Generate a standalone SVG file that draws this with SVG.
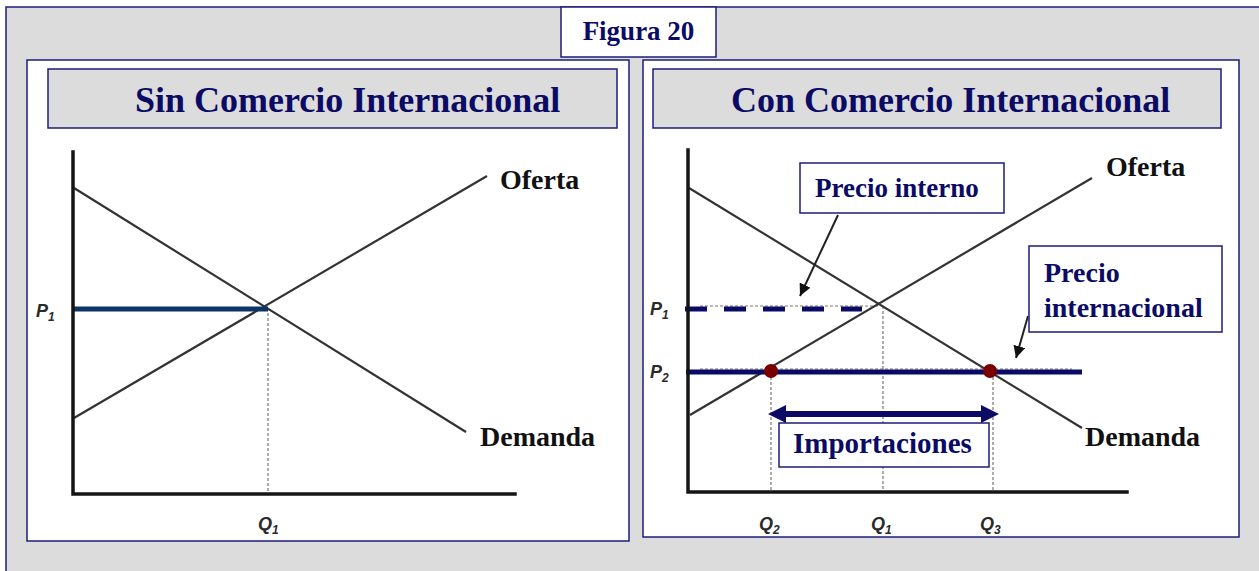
<svg xmlns="http://www.w3.org/2000/svg" width="1259" height="571" viewBox="0 0 1259 571">
<style>
.frame{fill:#ffffff;stroke:#1c1c7a;stroke-width:1.5}
.gbox{fill:#dcdcdc;stroke:#1c1c7a;stroke-width:1.5}
.title{font-family:"Liberation Serif",serif;font-weight:bold;fill:#0b0b66}
.lbl{font-family:"Liberation Serif",serif;font-weight:bold;fill:#111111}
.ax{stroke:#151515;stroke-width:3.5;fill:none;stroke-linecap:square}
.curve{stroke:#333333;stroke-width:2.2;fill:none}
.dot{stroke:#777777;stroke-width:1.2;stroke-dasharray:3 2;fill:none}
.var{font-family:"Liberation Sans",sans-serif;font-weight:bold;font-style:italic;fill:#2a2a2a;font-size:18px}
.sub{font-size:12px}
.ptr{stroke:#222222;stroke-width:2;fill:none}
</style>
<defs>
<marker id="ah" markerUnits="userSpaceOnUse" markerWidth="14" markerHeight="14" refX="12" refY="6" orient="auto">
<path d="M0,0 L12,6 L0,12 Z" fill="#111111"/>
</marker>
</defs>
<rect x="6" y="7" width="1260" height="570" fill="#dcdcdc" stroke="#1c1c7a" stroke-width="1.5"/>

<g id="figura">
<rect class="frame" x="561" y="7" width="155" height="50"/>
<text class="title" x="638.5" y="40" font-size="27" text-anchor="middle">Figura 20</text>
</g>

<g id="panel-sin">
<rect class="frame" x="27" y="60" width="602" height="481"/>
<rect class="gbox" x="48" y="69" width="569" height="59"/>
<text class="title" x="135" y="112" font-size="36">Sin Comercio Internacional</text>
</g>

<g id="panel-con">
<rect class="frame" x="643" y="60" width="596" height="477"/>
<rect class="gbox" x="653" y="69" width="568" height="59"/>
<text class="title" x="731" y="112" font-size="36">Con Comercio Internacional</text>
</g>

<g id="chart-sin">
<line class="dot" x1="268" y1="308" x2="268" y2="494"/>
<line class="curve" x1="74" y1="188" x2="466" y2="432"/>
<line class="curve" x1="74" y1="418" x2="487" y2="176"/>
<line x1="73" y1="309" x2="268" y2="309" stroke="#0d3468" stroke-width="5"/>
<path class="ax" d="M73,152 L73,494 L515,494"/>
<text class="var" x="36" y="317">P<tspan class="sub" dy="4">1</tspan></text>
<text class="var" x="258" y="530">Q<tspan class="sub" dy="4">1</tspan></text>
</g>

<g id="label-oferta-sin"><text class="lbl" x="500" y="189" font-size="28">Oferta</text></g>
<g id="label-demanda-sin"><text class="lbl" x="480" y="446" font-size="28">Demanda</text></g>

<g id="chart-con">
<line class="dot" x1="771" y1="372" x2="771" y2="492"/>
<line class="dot" x1="883" y1="306" x2="883" y2="492"/>
<line class="dot" x1="993" y1="372" x2="993" y2="492"/>
<line class="dot" x1="700" y1="306" x2="878" y2="306"/>
<line class="dot" x1="700" y1="369" x2="1072" y2="369"/>
<line class="curve" x1="689" y1="188" x2="1082" y2="428"/>
<line class="curve" x1="690" y1="415" x2="1092" y2="178"/>
<line x1="685" y1="309" x2="862" y2="309" stroke="#0b0b66" stroke-width="5" stroke-dasharray="22 17"/>
<line x1="686" y1="372" x2="1082" y2="372" stroke="#0b0b66" stroke-width="5"/>
<circle cx="771" cy="371" r="7" fill="#7a0000"/>
<circle cx="990" cy="371" r="7" fill="#7a0000"/>
<path class="ax" d="M688,150 L688,492 L1127,492"/>
<text class="var" x="650" y="315">P<tspan class="sub" dy="4">1</tspan></text>
<text class="var" x="650" y="378">P<tspan class="sub" dy="4">2</tspan></text>
<text class="var" x="759" y="530">Q<tspan class="sub" dy="4">2</tspan></text>
<text class="var" x="871" y="530">Q<tspan class="sub" dy="4">1</tspan></text>
<text class="var" x="980" y="530">Q<tspan class="sub" dy="4">3</tspan></text>
</g>

<g id="label-oferta-con"><text class="lbl" x="1106" y="176" font-size="28">Oferta</text></g>
<g id="label-demanda-con"><text class="lbl" x="1085" y="446" font-size="28">Demanda</text></g>

<g id="precio-interno">
<rect class="frame" x="800" y="163" width="204" height="50"/>
<text class="title" x="815" y="197" font-size="27">Precio interno</text>
</g>

<g id="precio-internacional">
<rect class="frame" x="1029" y="246" width="193" height="86"/>
<text class="title" x="1044" y="282" font-size="28">Precio</text>
<text class="title" x="1044" y="317" font-size="28">internacional</text>
</g>

<g id="importaciones">
<rect class="frame" x="779" y="423" width="210" height="44"/>
<text class="title" x="793" y="453" font-size="29">Importaciones</text>
</g>

<g id="connectors">
<line class="ptr" x1="838" y1="215" x2="800" y2="296" marker-end="url(#ah)"/>
<line class="ptr" x1="1028" y1="316" x2="1016" y2="358" marker-end="url(#ah)"/>
<line x1="783" y1="414" x2="984" y2="414" stroke="#0b0b66" stroke-width="6"/>
<path d="M768,414 L786,405 L786,423 Z" fill="#0b0b66"/>
<path d="M999,414 L981,405 L981,423 Z" fill="#0b0b66"/>
</g>
</svg>
